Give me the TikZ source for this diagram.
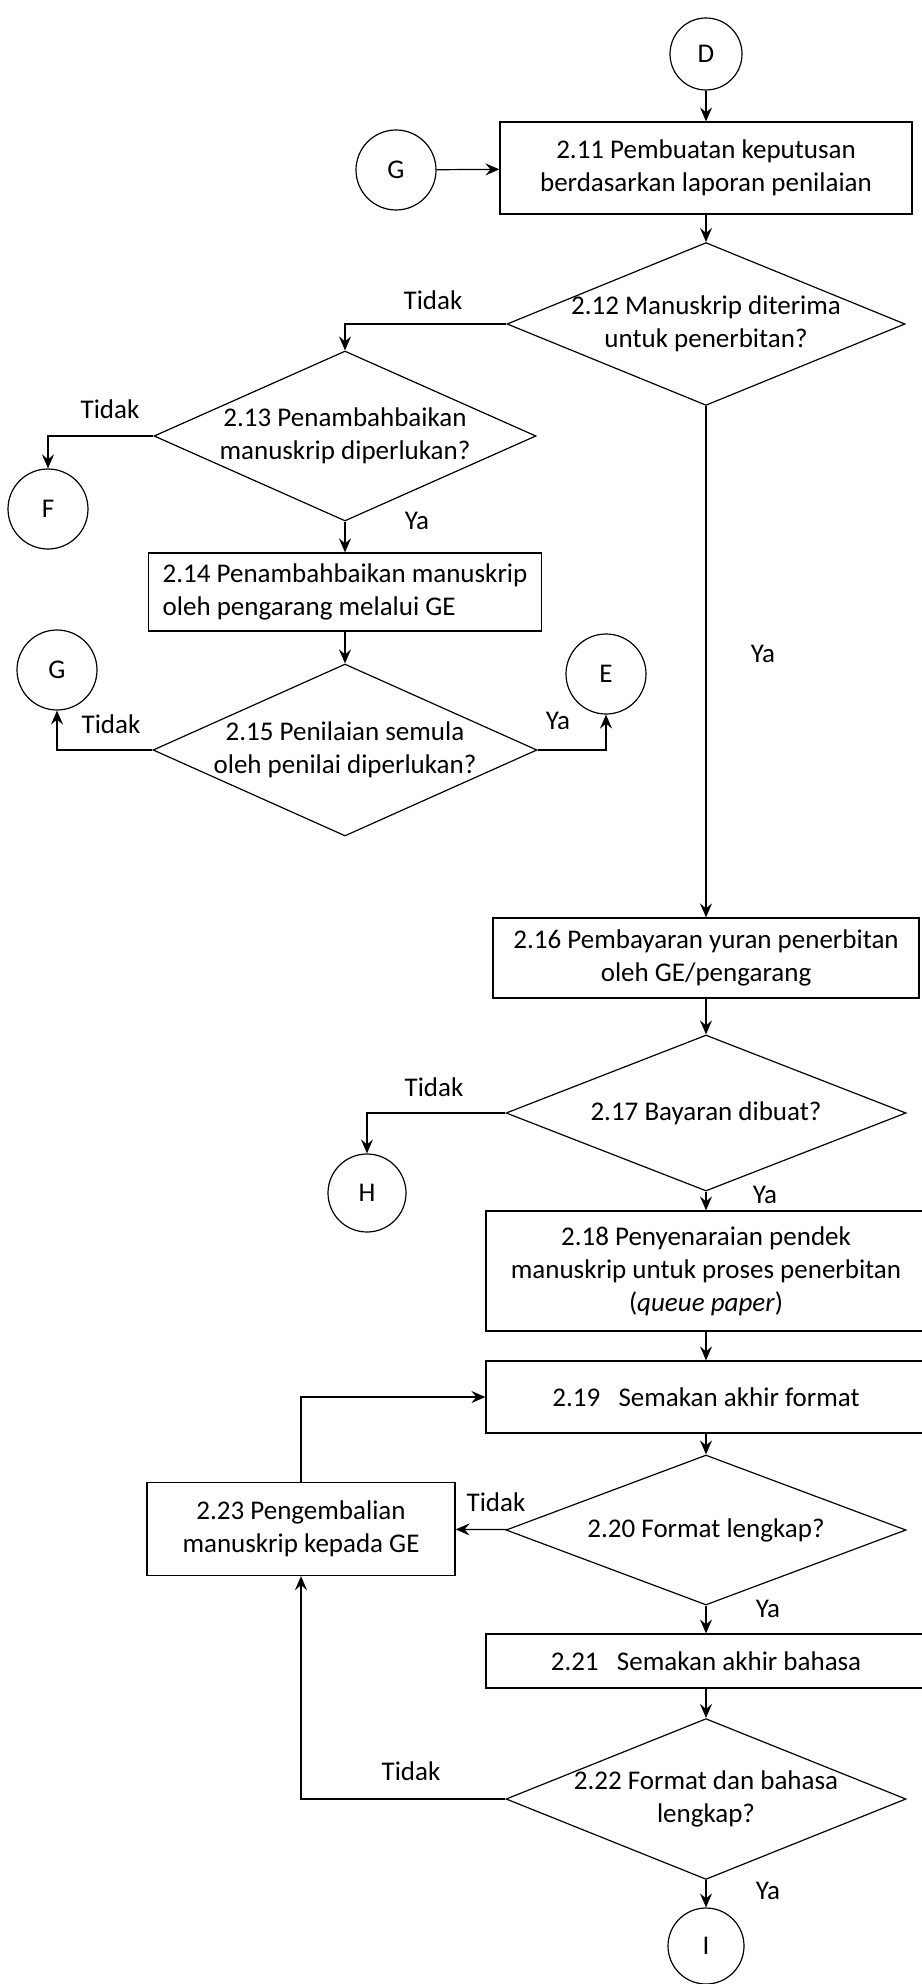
\documentclass[tikz,border=0pt]{standalone}
\usepackage{fontspec}
\setmainfont{Carlito}
\usetikzlibrary{arrows.meta,positioning,shapes.geometric,calc}

\begin{document}
\begin{tikzpicture}[x=0.5pt,y=-0.5pt,
  pubbox/.style={draw,line width=0.6pt,align=center,inner sep=2pt,
    font=\fontsize{13.5}{16.5}\selectfont},
  pubdec/.style={draw,diamond,line width=0.6pt,align=center,inner sep=-1pt,aspect=2.4,
    font=\fontsize{13.5}{16.5}\selectfont},
  pubcirc/.style={draw,circle,line width=0.6pt,inner sep=0pt,minimum size=40pt,
    font=\fontsize{13.5}{16.5}\selectfont},
  publbl/.style={inner sep=0pt,font=\fontsize{13.5}{16.5}\selectfont},
  pubarr/.style={-{Stealth[length=7pt,width=6pt,inset=2.5pt]},line width=0.6pt}
]
  \useasboundingbox (0,0) rectangle (921,1984);
  % Decision on review report
  \node[pubcirc,minimum size=36pt] (conD) at (706,54) {D};
  \node[pubcirc] (conG1) at (396,170) {G};
  \node[pubbox,minimum width=206pt,minimum height=46pt] (b211) at (706,168)
    {2.11 Pembuatan keputusan\\berdasarkan laporan penilaian};
  \node[pubdec,minimum width=199pt,minimum height=81pt] (d212) at (706,324)
    {2.12 Manuskrip diterima\\untuk penerbitan?};
  \draw[pubarr] (conD) -- (b211);
  \draw[pubarr] (conG1) -- (b211);
  \draw[pubarr] (b211) -- (d212);
  % Revision branch
  \node[pubdec,aspect=2.2,minimum width=191pt,minimum height=85pt] (d213) at (345,436)
    {2.13 Penambahbaikan\\manuskrip diperlukan?};
  \node[pubcirc] (conF) at (48,509) {F};
  \node[pubbox,align=left,minimum width=196.5pt,minimum height=39pt] (b214) at (345,592)
    {2.14 Penambahbaikan manuskrip\\oleh pengarang melalui GE};
  \node[pubdec,aspect=2.2,minimum width=192pt,minimum height=86pt] (d215) at (345,750)
    {2.15 Penilaian semula\\oleh penilai diperlukan?};
  \node[pubcirc] (conG2) at (57,670) {G};
  \node[pubcirc] (conE) at (606,674) {E};
  \draw[pubarr] (d212.west) -| (d213.north);
  \draw[pubarr] (d213.west) -| (conF.north);
  \draw[pubarr] (d213) -- (b214);
  \draw[pubarr] (b214) -- (d215);
  \draw[pubarr] (d215.west) -| (conG2.south);
  \draw[pubarr] (d215.east) -| (conE.south);
  \node[publbl] (l212n) at (433,300) {Tidak};
  \node[publbl] (l213n) at (110,409) {Tidak};
  \node[publbl] (l213y) at (417,521) {Ya};
  \node[publbl] (l215n) at (111,724) {Tidak};
  \node[publbl] (l215y) at (558,721) {Ya};
  % Payment
  \node[pubbox,minimum width=213pt,minimum height=40pt] (b216) at (706,958)
    {2.16 Pembayaran yuran penerbitan\\oleh GE/pengarang};
  \node[pubdec,aspect=2.6,minimum width=200pt,minimum height=78pt] (d217) at (706,1113)
    {2.17 Bayaran dibuat?};
  \node[pubcirc,minimum size=39pt] (conH) at (367,1193) {H};
  \node[pubbox,minimum width=220pt,minimum height=60pt] (b218) at (706,1271)
    {2.18 Penyenaraian pendek\\manuskrip untuk proses penerbitan\\(\textit{queue paper})};
  \draw[pubarr] (d212) -- (b216);
  \draw[pubarr] (b216) -- (d217);
  \draw[pubarr] (d217.west) -| (conH.north);
  \draw[pubarr] (d217) -- (b218);
  \node[publbl] (l212y) at (763,654) {Ya};
  \node[publbl] (l217n) at (434,1087) {Tidak};
  \node[publbl] (l217y) at (765,1195) {Ya};
  % Final checks
  \node[pubbox,minimum width=220pt,minimum height=36pt] (b219) at (706,1397)
    {2.19~~~Semakan akhir format};
  \node[pubdec,aspect=2.6,minimum width=200pt,minimum height=75pt] (d220) at (706,1530)
    {2.20 Format lengkap?};
  \node[pubbox,minimum width=154pt,minimum height=46.5pt] (b223) at (301,1529)
    {2.23 Pengembalian\\manuskrip kepada GE};
  \node[pubbox,minimum width=220pt,minimum height=27pt] (b221) at (706,1661)
    {2.21~~~Semakan akhir bahasa};
  \node[pubdec,minimum width=200pt,minimum height=78pt] (d222) at (706,1799)
    {2.22 Format dan bahasa\\lengkap?};
  \node[pubcirc,minimum size=38pt] (conI) at (706,1946) {I};
  \draw[pubarr] (b218) -- (b219);
  \draw[pubarr] (b219) -- (d220);
  \draw[pubarr] (d220) -- (b223);
  \draw[pubarr] (d220) -- (b221);
  \draw[pubarr] (b221) -- (d222);
  \draw[pubarr] (d222.west) -| (b223.south);
  \draw[pubarr] (b223.north) |- (b219.west);
  \draw[pubarr] (d222) -- (conI);
  \node[publbl] (l220n) at (496,1502) {Tidak};
  \node[publbl] (l220y) at (768,1609) {Ya};
  \node[publbl] (l222n) at (411,1771) {Tidak};
  \node[publbl] (l222y) at (768,1891) {Ya};
\end{tikzpicture}
\end{document}
